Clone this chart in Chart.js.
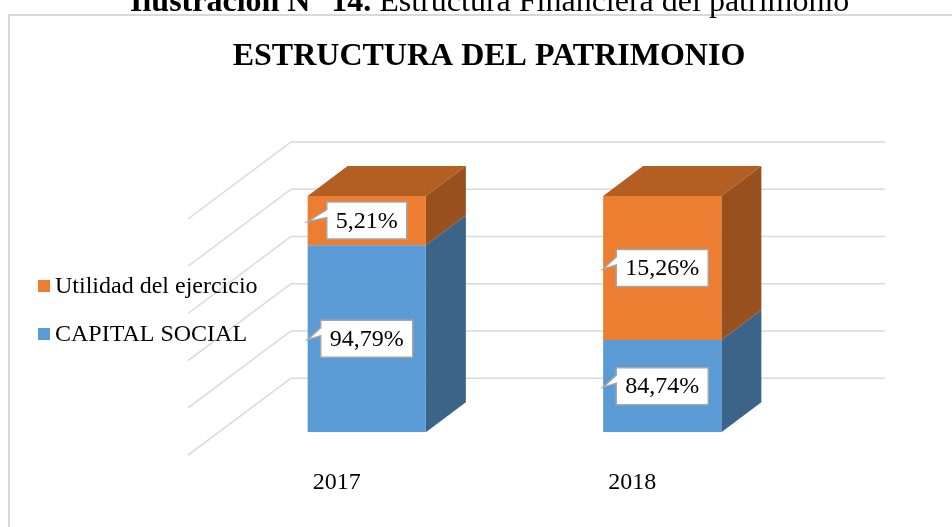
<!DOCTYPE html>
<html>
<head>
<meta charset="utf-8">
<script src="https://cdn.jsdelivr.net/npm/chart.js@4.4.1/dist/chart.umd.min.js"></script>
<style>
  html, body { margin: 0; padding: 0; background: #fff; }
</style>
</head>
<body>
<canvas id="chart" width="952" height="527"></canvas>
<script>
// datos
let years = ['2017', '2018'];
let capitalSocial = [79.2, 39.0];   // altura del bloque azul (% del eje)
let utilidad = [20.8, 61.0];        // altura del bloque naranja
let capitalLabels = ['94,79%', '84,74%'];
let utilidadLabels = ['5,21%', '15,26%'];
let yMax = 100;
let yStep = 20;

let serif = "'Liberation Serif', 'Times New Roman', serif";

// desplazamientos de la perspectiva 3D
let wall = { dx: 72, dy: -54 };     // pared del fondo
let floorFront = { dx: -31, dy: 23 };
let depth = { dx: 40, dy: -30 };    // profundidad de cada columna

let frame3d = {
    id: 'frame3d',
    beforeDraw(chart) {
        let ctx = chart.ctx;
        ctx.save();
        ctx.fillStyle = '#fff';
        ctx.fillRect(0, 0, chart.width, chart.height);
        ctx.strokeStyle = '#d9d9d9';
        ctx.lineWidth = 2;
        ctx.strokeRect(9, 15, 1000, 600);
        ctx.restore();
    },
    beforeDatasetsDraw(chart) {
        let ctx = chart.ctx;
        let area = chart.chartArea;
        let y = chart.scales.y;
        ctx.save();
        ctx.strokeStyle = '#d9d9d9';
        ctx.lineWidth = 1.5;
        for (let v = 0; v <= yMax; v += yStep) {
            let py = y.getPixelForValue(v);
            ctx.beginPath();
            ctx.moveTo(area.left + floorFront.dx, py + floorFront.dy);
            ctx.lineTo(area.left + wall.dx, py + wall.dy);
            ctx.lineTo(area.right + wall.dx + 3, py + wall.dy);
            ctx.stroke();
        }
        // caras laterales y superior
        let sideColors = ['#3b6488', '#98501f'];
        let last = chart.data.datasets.length - 1;
        chart.data.datasets.forEach((ds, i) => {
            chart.getDatasetMeta(i).data.forEach(bar => {
                let l = bar.x - bar.width / 2;
                let r = bar.x + bar.width / 2;
                ctx.fillStyle = sideColors[i];
                ctx.beginPath();
                ctx.moveTo(r, bar.y);
                ctx.lineTo(r + depth.dx, bar.y + depth.dy);
                ctx.lineTo(r + depth.dx, bar.base + depth.dy);
                ctx.lineTo(r, bar.base);
                ctx.closePath();
                ctx.fill();
                if (i == last) {
                    ctx.fillStyle = '#b35e23';
                    ctx.beginPath();
                    ctx.moveTo(l, bar.y);
                    ctx.lineTo(l + depth.dx, bar.y + depth.dy);
                    ctx.lineTo(r + depth.dx, bar.y + depth.dy);
                    ctx.lineTo(r, bar.y);
                    ctx.closePath();
                    ctx.fill();
                }
            });
        });
        ctx.restore();
    },
    afterDatasetsDraw(chart) {
        let ctx = chart.ctx;
        let texts = [capitalLabels, utilidadLabels];
        ctx.save();
        ctx.font = '24px ' + serif;
        ctx.textAlign = 'center';
        ctx.textBaseline = 'middle';
        chart.data.datasets.forEach((ds, i) => {
            chart.getDatasetMeta(i).data.forEach((bar, j) => {
                let txt = texts[i][j];
                let cy = (bar.y + bar.base) / 2;
                let w = ctx.measureText(txt).width + 18;
                let h = 37;
                let bx = bar.x - w / 2;
                let by = cy - h / 2;
                let tip = bar.x - bar.width / 2;
                ctx.beginPath();
                ctx.moveTo(bx, by);
                ctx.lineTo(bx + w, by);
                ctx.lineTo(bx + w, by + h);
                ctx.lineTo(bx, by + h);
                ctx.lineTo(bx, cy - 3);
                ctx.lineTo(tip, cy + 1);
                ctx.lineTo(bx, cy - 11);
                ctx.closePath();
                ctx.fillStyle = '#fff';
                ctx.fill();
                ctx.strokeStyle = '#a6a6a6';
                ctx.lineWidth = 1.5;
                ctx.stroke();
                ctx.fillStyle = '#000';
                ctx.fillText(txt, bar.x, cy + 1);
            });
        });
        ctx.restore();
    },
    afterDraw(chart) {
        let ctx = chart.ctx;
        ctx.save();
        // titulo, centrado en el marco (que sigue a la derecha del lienzo)
        ctx.fillStyle = '#000';
        ctx.textAlign = 'center';
        ctx.textBaseline = 'middle';
        ctx.font = 'bold 32px ' + serif;
        ctx.fillText('ESTRUCTURA DEL PATRIMONIO', 489, 57);
        // leyenda (orden inverso, como en Excel)
        ctx.textAlign = 'left';
        ctx.font = '24px ' + serif;
        let items = chart.data.datasets.slice().reverse();
        items.forEach((ds, k) => {
            let cy = 286 + k * 48;
            ctx.fillStyle = ds.backgroundColor;
            ctx.fillRect(38, cy - 6, 12, 12);
            ctx.fillStyle = '#000';
            ctx.fillText(ds.label, 55, cy + 1);
        });
        // rotulo de la ilustracion
        ctx.textBaseline = 'alphabetic';
        ctx.font = 'bold 32px ' + serif;
        let part1 = 'Ilustración N° 14.';
        ctx.fillText(part1, 130, 11);
        let w1 = ctx.measureText(part1).width;
        ctx.font = '32px ' + serif;
        ctx.fillText(' Estructura Financiera del patrimonio', 130 + w1, 11);
        ctx.restore();
    }
};

new Chart(document.getElementById('chart'), {
    type: 'bar',
    data: {
        labels: years,
        datasets: [{
            label: 'CAPITAL SOCIAL',
            data: capitalSocial,
            backgroundColor: '#5b9bd5',
            borderWidth: 0
        }, {
            label: 'Utilidad del ejercicio',
            data: utilidad,
            backgroundColor: '#ed7d31',
            borderWidth: 0
        }]
    },
    options: {
        responsive: false,
        animation: false,
        categoryPercentage: 1,
        barPercentage: 0.4,
        layout: { padding: { left: 219, right: 142, top: 196, bottom: -6 } },
        plugins: {
            legend: { display: false },
            tooltip: { enabled: false },
            title: { display: false }
        },
        scales: {
            x: {
                stacked: true,
                grid: { display: false, drawTicks: false },
                border: { display: false },
                ticks: {
                    color: '#000',
                    font: { family: serif, size: 24 },
                    padding: 36,
                    labelOffset: -30
                }
            },
            y: {
                stacked: true,
                display: false,
                min: 0,
                max: yMax,
                ticks: { stepSize: yStep }
            }
        }
    },
    plugins: [frame3d]
});
</script>
</body>
</html>
